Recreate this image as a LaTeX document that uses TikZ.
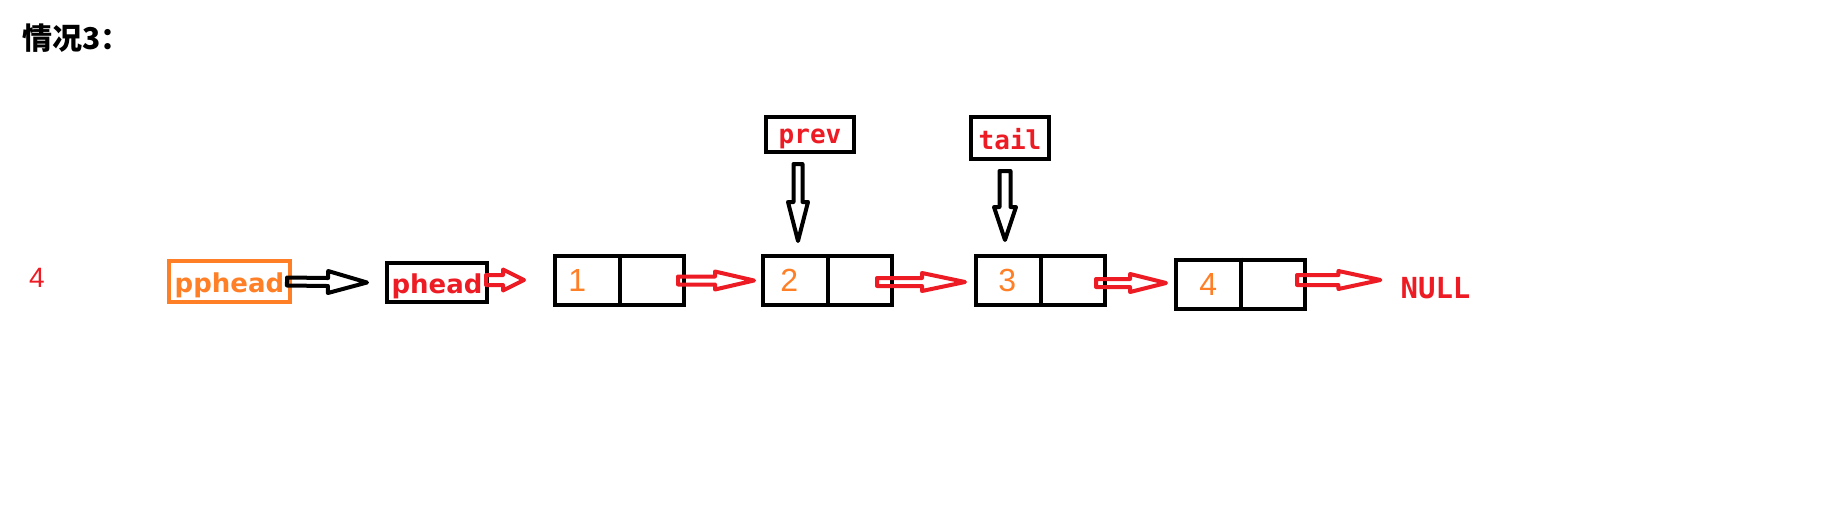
\documentclass[tikz,border=0pt]{standalone}
\usepackage{fontspec}
\newfontfamily\cjk{Noto Sans CJK SC}
\newfontfamily\boxfont{DejaVu Sans}
\newfontfamily\codefont{DejaVu Sans Mono}
\newfontfamily\numfont{Liberation Sans}
\usetikzlibrary{calc}
\definecolor{paintred}{RGB}{237,28,36}
\definecolor{paintorange}{RGB}{255,127,39}
\begin{document}
\begin{tikzpicture}[x=1pt,y=1pt,line cap=butt,line join=miter]
	\tikzset{
		hollow/.style args={#1/#2/#3}{line width=4pt,line join=round,
			to path={($(\tikztostart)!#1pt!90:(\tikztotarget)$)
				-- ($(\tikztotarget)!#3pt!(\tikztostart)!#1pt!90:(\tikztotarget)$)
				-- ($(\tikztotarget)!#3pt!(\tikztostart)!#2pt!90:(\tikztotarget)$)
				-- (\tikztotarget)
				-- ($(\tikztotarget)!#3pt!(\tikztostart)!#2pt!-90:(\tikztotarget)$)
				-- ($(\tikztotarget)!#3pt!(\tikztostart)!#1pt!-90:(\tikztotarget)$)
				-- ($(\tikztostart)!#1pt!-90:(\tikztotarget)$) -- cycle}},
		hollow/.default=4.5/10/40,
		box/.style={draw,line width=4pt,inner sep=0pt,text height=21pt,text depth=0pt,
			font=\boxfont\bfseries\fontsize{26}{26}\selectfont},
		ptr/.style={draw,line width=4pt,inner sep=0pt,text depth=0pt,text=paintred,
			font=\codefont\bfseries\fontsize{26}{26}\selectfont},
		cell/.style={draw,line width=4pt,inner sep=0pt,minimum width=129pt,minimum height=49pt},
		digit/.style={text=paintorange,inner sep=0pt,font=\numfont\fontsize{32}{32}\selectfont}
	}
	\useasboundingbox (0,0) rectangle (1835,-527);
	\node[anchor=base west,inner sep=0pt,font=\cjk\bfseries\fontsize{30}{30}\selectfont] (title) at (22,-49) {情况3：};
	\node[text=paintred,inner sep=0pt,font=\numfont\fontsize{28}{28}\selectfont] (len) at (37,-278) {4};
	\node[box,draw=paintorange,text=paintorange,minimum width=121pt,minimum height=41pt] (pph) at (229.5,-281.5) {pphead};
	\node[box,text=paintred,minimum width=100pt,minimum height=39pt] (ph) at (437,-282.5) {phead};
	\node[ptr,text height=17pt,minimum width=88pt,minimum height=35pt] (prev) at (810,-134.5) {prev};
	\node[ptr,text height=22pt,minimum width=78pt,minimum height=42pt] (tail) at (1010,-138) {tail};
	\foreach \n/\x/\y/\d in {1/619.5/280.5/-9, 2/827.5/280.5/-5, 3/1040.5/280.5/0, 4/1240.5/284/1}{
		\node[cell] (n\n) at (\x,-\y) {};
		\draw[line width=4pt] (n\n.north) -- (n\n.south);
		\node[digit] (v\n) at ($(n\n.west)!0.5!(n\n.center)+(\d,0)$) {\n};
	}
	\node[text=paintred,inner sep=0pt,font=\codefont\bfseries\fontsize{29}{29}\selectfont] (nul) at (1435.5,-288) {NULL};
	\draw[hollow=4/11/39] ([xshift=-5pt]pph.east) to ([xshift=-18pt]ph.west);
	\draw[hollow=5/10.5/21,paintred] ([xshift=-3pt,yshift=2.5pt]ph.east) to ([xshift=-29pt,yshift=0.5pt]n1.west);
	\draw[hollow=4/9/39,paintred] ([xshift=-8pt]n1.east) to ([xshift=-7pt]n2.west);
	\draw[hollow=4/9/43,paintred] ([xshift=-17pt,yshift=-1.5pt]n2.east) to ([xshift=-9pt,yshift=-1.5pt]n3.west);
	\draw[hollow=4/9/36,paintred] ([xshift=-11pt,yshift=-2.5pt]n3.east) to ([xshift=-8pt,yshift=1pt]n4.west);
	\draw[hollow=5/9/42,paintred] ([xshift=-10pt,yshift=4pt]n4.east) to ([xshift=-20pt,yshift=8pt]nul.west);
	\draw[hollow=4.5/10/39] ([xshift=-12pt,yshift=-10pt]prev.south) to ([xshift=-29.5pt,yshift=13pt]n2.north);
	\draw[hollow=5.5/11/33] ([xshift=-5pt,yshift=-10pt]tail.south) to ([xshift=-35.5pt,yshift=14pt]n3.north);
\end{tikzpicture}
\end{document}
